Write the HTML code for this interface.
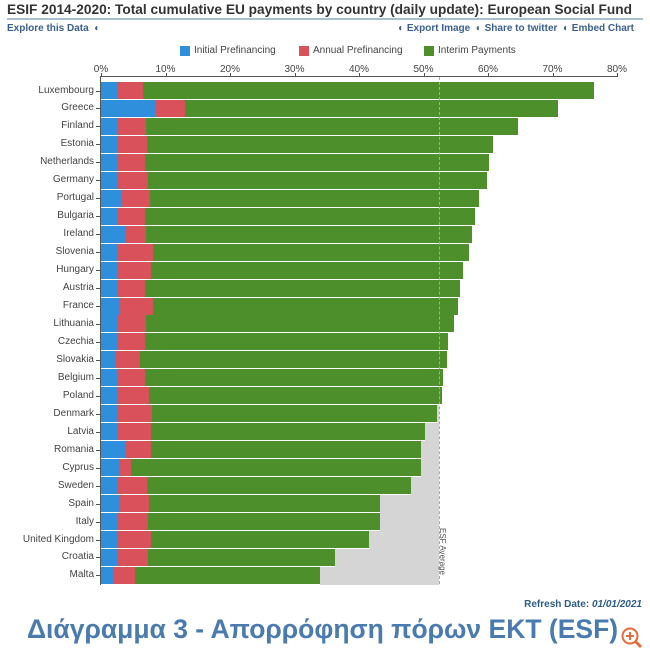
<!DOCTYPE html>
<html><head><meta charset="utf-8"><style>
body{margin:0;width:650px;height:656px;background:#fff;font-family:"Liberation Sans","DejaVu Sans",sans-serif;position:relative;overflow:hidden}
.a{position:absolute}
.t{font-weight:bold;color:#333;font-size:13.7px;white-space:nowrap}
.lnk{font-weight:bold;color:#3a5f8f;font-size:10px}
.lab{position:absolute;right:556px;font-size:10px;color:#444;text-align:right;white-space:nowrap}
.tk{position:absolute;font-size:10px;color:#444;width:40px;text-align:center;top:64px}
.b{position:absolute;height:17px}
</style></head><body>
<div class="a t" style="left:7px;top:2px;">ESIF 2014-2020: Total cumulative EU payments by country (daily update): European Social Fund</div>
<div class="a" style="left:7px;top:18px;width:636px;height:2px;background:#a9bfd3"></div>
<div class="a lnk" style="left:7px;top:23px;">Explore this Data &nbsp;◐</div>
<div class="a lnk" style="right:16px;top:23px;">◐ Export Image &nbsp;◐ Share to twitter &nbsp;◐ Embed Chart</div>
<div class="a" style="left:180px;top:46px;width:10px;height:10px;background:#2f8fdc"></div>
<div class="a" style="left:194px;top:45px;font-size:10px;color:#444">Initial Prefinancing</div>
<div class="a" style="left:299px;top:46px;width:10px;height:10px;background:#d9515b"></div>
<div class="a" style="left:313px;top:45px;font-size:10px;color:#444">Annual Prefinancing</div>
<div class="a" style="left:424px;top:46px;width:10px;height:10px;background:#4d8f2a"></div>
<div class="a" style="left:438px;top:45px;font-size:10px;color:#444">Interim Payments</div>
<div id="c"></div>
<div class="a" style="right:8px;top:599px;font-size:10px;font-weight:bold;color:#2f5d8a">Refresh Date: <i>01/01/2021</i></div>
<div class="a" style="left:27px;top:614px;font-size:26.5px;font-weight:bold;color:#4a7bb0;white-space:nowrap">Διάγραμμα 3 - Απορρόφηση πόρων ΕΚΤ (ESF)</div>
<svg class="a" style="left:620px;top:626px" width="26" height="26"><circle cx="10" cy="10" r="7.5" fill="none" stroke="#e86a3a" stroke-width="2"/><line x1="15" y1="15" x2="21" y2="21" stroke="#e86a3a" stroke-width="3"/><path d="M6 10h8M10 6v8" stroke="#e86a3a" stroke-width="2"/></svg>
<script>
var d=[["Luxembourg",118,143,594],["Greece",156,185,558],["Finland",118,146,518],["Estonia",118,147,493],["Netherlands",118,145,489],["Germany",118,148,487],["Portugal",121,150,479],["Bulgaria",118,145,475],["Ireland",125,146,472],["Slovenia",118,153,469],["Hungary",118,151,463],["Austria",118,145,460],["France",120,153,458],["Lithuania",117,146,454],["Czechia",117,145,448],["Slovakia",115,140,447],["Belgium",118,145,443],["Poland",118,149,442],["Denmark",118,152,437],["Latvia",118,151,425],["Romania",125,151,421],["Cyprus",120,131,421],["Sweden",118,147,411],["Spain",119,149,380],["Italy",118,148,380],["United Kingdom",118,151,369],["Croatia",118,148,335],["Malta",114,135,320]];
var h='';
h+='<div class="a" style="left:100px;top:76px;width:518px;height:1px;background:#555"></div>';
for(var i=0;i<=8;i++){var x=101+i*64.5;h+='<div class="tk" style="left:'+(x-20)+'px">'+(i*10)+'%</div><div class="a" style="left:'+x+'px;top:73px;width:1px;height:4px;background:#555"></div>';}
h+='<div class="a" style="left:100px;top:76px;width:1px;height:509px;background:#555"></div>';
for(var i=0;i<d.length;i++){var r=d[i],y=82+i*17.96,cy=y+8.5;
if(r[3]<439)h+='<div class="b" style="left:'+r[3]+'px;top:'+y+'px;width:'+(439-r[3])+'px;height:18px;background:#d5d5d5"></div>';
h+='<div class="b" style="left:101px;top:'+y+'px;width:'+(r[1]-101)+'px;background:#2f8fdc"></div>';
h+='<div class="b" style="left:'+r[1]+'px;top:'+y+'px;width:'+(r[2]-r[1])+'px;background:#d9515b"></div>';
h+='<div class="b" style="left:'+r[2]+'px;top:'+y+'px;width:'+(r[3]-r[2])+'px;background:#4d8f2a"></div>';
h+='<div class="lab" style="top:'+(cy-6)+'px">'+r[0]+'</div><div class="a" style="left:96px;top:'+cy+'px;width:4px;height:1px;background:#555"></div>';}
h+='<div class="a" style="left:439px;top:77px;height:507px;border-left:1px dashed #aaa"></div>';
h+='<div class="a" style="top:528px;font-size:8px;color:#555;transform:rotate(90deg);transform-origin:left top;left:447px;white-space:nowrap">ESF Average</div>';
document.getElementById('c').innerHTML=h;
</script>
</body></html>
